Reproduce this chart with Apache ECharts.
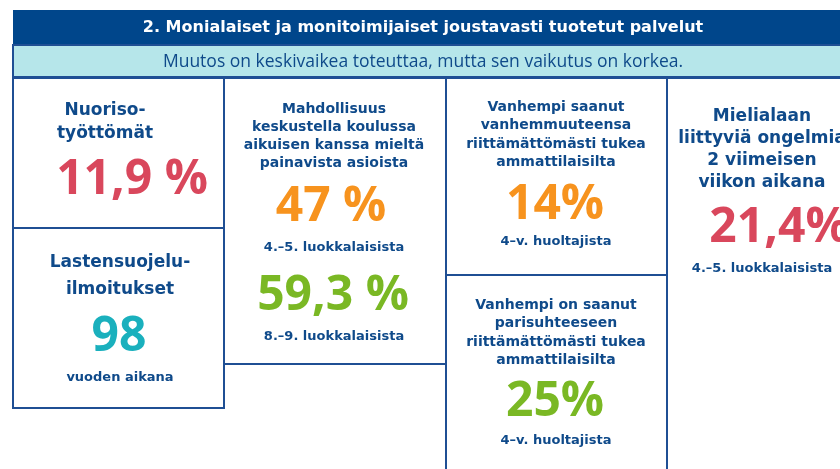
<!DOCTYPE html>
<html>
<head>
<meta charset="utf-8">
<script src="https://cdn.jsdelivr.net/npm/echarts@6/dist/echarts.min.js"></script>
<style>
  html, body { margin: 0; padding: 0; background: #fff; }
  #chart { width: 840px; height: 469px; }
</style>
</head>
<body>
<div id="chart"></div>
<script>
// header texts
const heading = '2. Monialaiset ja monitoimijaiset joustavasti tuotetut palvelut';
const subHeading = 'Muutos on keskivaikea toteuttaa, mutta sen vaikutus on korkea.';

// indicator data, one entry per box
const titles = [
  'Nuoriso-\ntyöttömät',
  'Lastensuojelu-\nilmoitukset',
  'Mahdollisuus\nkeskustella koulussa\naikuisen kanssa mieltä\npainavista asioista',
  'Vanhempi saanut\nvanhemmuuteensa\nriittämättömästi tukea\nammattilaisilta',
  'Vanhempi on saanut\nparisuhteeseen\nriittämättömästi tukea\nammattilaisilta',
  'Mielialaan\nliittyviä ongelmia\n2 viimeisen\nviikon aikana'
];
const values = [['11,9 %'], ['98'], ['47 %', '59,3 %'], ['14%'], ['25%'], ['21,4%']];
const notes = [[''], ['vuoden aikana'], ['4.–5. luokkalaisista', '8.–9. luokkalaisista'],
  ['4–v. huoltajista'], ['4–v. huoltajista'], ['4.–5. luokkalaisista']];
const valueColors = [['#d9475c'], ['#1ab0bd'], ['#f7931e', '#7ab824'], ['#f7931e'], ['#7ab824'], ['#d9475c']];

// layout (pixels)
const boxes = [
  { x: 13, y: 78, w: 211, h: 150, cx: 105, titleY: 122, titleLh: 23, titleSize: 17, valX: [132], valY: [180], noteY: [] },
  { x: 13, y: 228, w: 211, h: 180, cx: 120, titleY: 276, titleLh: 27, titleSize: 17, valX: [119], valY: [337], noteY: [378] },
  { x: 224, y: 78, w: 222, h: 286, cx: 334, titleY: 136, titleLh: 18, titleSize: 14, valX: [331, 333], valY: [207, 296], noteY: [248, 337] },
  { x: 446, y: 78, w: 221, h: 197, cx: 556, titleY: 135, titleLh: 18.5, titleSize: 14, valX: [555], valY: [205], noteY: [242] },
  { x: 446, y: 275, w: 221, h: 210, cx: 556, titleY: 333, titleLh: 18.5, titleSize: 14, valX: [555], valY: [402], noteY: [441] },
  { x: 667, y: 78, w: 190, h: 410, cx: 762, titleY: 150, titleLh: 22, titleSize: 17, valX: [779], valY: [228], noteY: [269] }
];

const navy = '#0f4a8a';
const lineColor = '#1f4f94';
const font = '"Open Sans", sans-serif';
const wide = '"DejaVu Sans", sans-serif';

const chart = echarts.init(document.getElementById('chart'));

const graphic = [
  { type: 'rect', shape: { x: 13, y: 10, width: 840, height: 35 }, style: { fill: '#00468b' } },
  { type: 'text', x: 423, y: 28, style: { text: heading, fill: '#fff', font: 'bold 16px ' + wide, textAlign: 'center', textVerticalAlign: 'middle' } },
  { type: 'rect', shape: { x: 13, y: 45, width: 840, height: 32 }, style: { fill: '#b6e6ea', stroke: lineColor, lineWidth: 2 } },
  { type: 'text', x: 423, y: 62, style: { text: subHeading, fill: navy, font: '17.5px ' + font, textAlign: 'center', textVerticalAlign: 'middle' } }
];

boxes.forEach((b, i) => {
  graphic.push({ type: 'rect', shape: { x: b.x, y: b.y, width: b.w, height: b.h }, style: { fill: 'none', stroke: lineColor, lineWidth: 2 } });
  graphic.push({
    type: 'text', x: b.cx, y: b.titleY,
    style: { text: titles[i], fill: navy, font: 'bold ' + b.titleSize + 'px ' + wide, lineHeight: b.titleLh, textAlign: 'center', textVerticalAlign: 'middle' }
  });
  values[i].forEach((v, j) => {
    graphic.push({
      type: 'text', x: b.valX[j], y: b.valY[j],
      style: { text: v, fill: valueColors[i][j], font: 'bold 48px ' + font, textAlign: 'center', textVerticalAlign: 'middle' }
    });
    if (notes[i][j]) {
      graphic.push({
        type: 'text', x: b.cx, y: b.noteY[j],
        style: { text: notes[i][j], fill: navy, font: 'bold 13px ' + wide, textAlign: 'center', textVerticalAlign: 'middle' }
      });
    }
  });
});

chart.setOption({ animation: false, graphic: graphic });
</script>
</body>
</html>
